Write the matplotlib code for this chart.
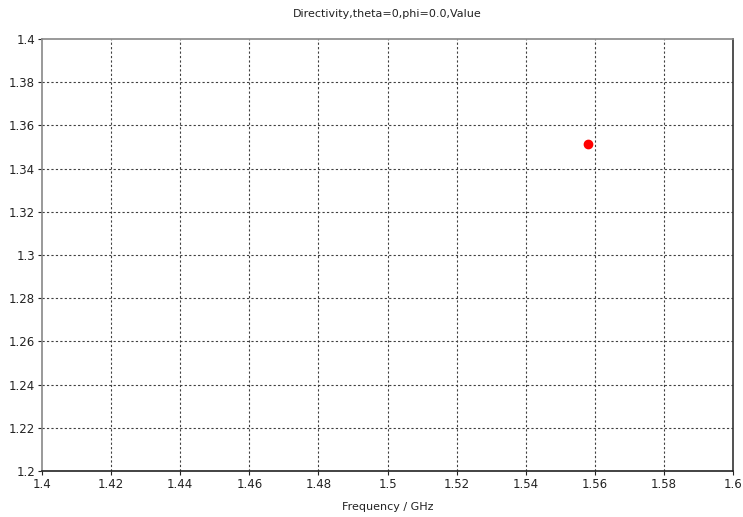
import numpy as np
import matplotlib.pyplot as plt

# data
freq = [1.558]
directivity = [1.3514]
x_ticks = [1.4, 1.42, 1.44, 1.46, 1.48, 1.5, 1.52, 1.54, 1.56, 1.58, 1.6]
y_ticks = [1.2, 1.22, 1.24, 1.26, 1.28, 1.3, 1.32, 1.34, 1.36, 1.38, 1.4]

plt.rcParams['font.family'] = ['DejaVu Sans']
plt.rcParams['font.size'] = 7.5

fig = plt.figure(figsize=(7.43, 5.17), dpi=100)
ax = fig.add_axes([42/743, 1 - 471/517, 691/743, 432/517])

ax.plot(freq, directivity, 'o', color='#ff0000', markersize=6, zorder=3)

ax.set_xlim(1.4, 1.6)
ax.set_ylim(1.2, 1.4)
ax.set_xticks(x_ticks)
ax.set_yticks(y_ticks)
ax.set_xticklabels([f'{v:g}' for v in x_ticks])
ax.set_yticklabels([f'{v:g}' for v in y_ticks])
ax.grid(True, linestyle=(0, (2, 2)), color='#404040', linewidth=0.8)
ax.tick_params(direction='out', length=3, width=0.8, colors='#222222', labelsize=8.5, pad=2)

# no grid on the frame edges
for lines in (ax.get_xgridlines(), ax.get_ygridlines()):
    lines[0].set_visible(False)
    lines[-1].set_visible(False)

ax.spines['left'].set_color('#888888')
ax.spines['top'].set_color('#888888')
ax.spines['right'].set_color('#333333')
ax.spines['bottom'].set_color('#222222')
for s in ax.spines.values():
    s.set_linewidth(1.2)

ax.set_title('Directivity,theta=0,phi=0.0,Value', fontsize=8, color='#222222', pad=16)
ax.set_xlabel('Frequency / GHz', fontsize=8, color='#222222', labelpad=8)

fig.savefig('out.png', dpi=100)
